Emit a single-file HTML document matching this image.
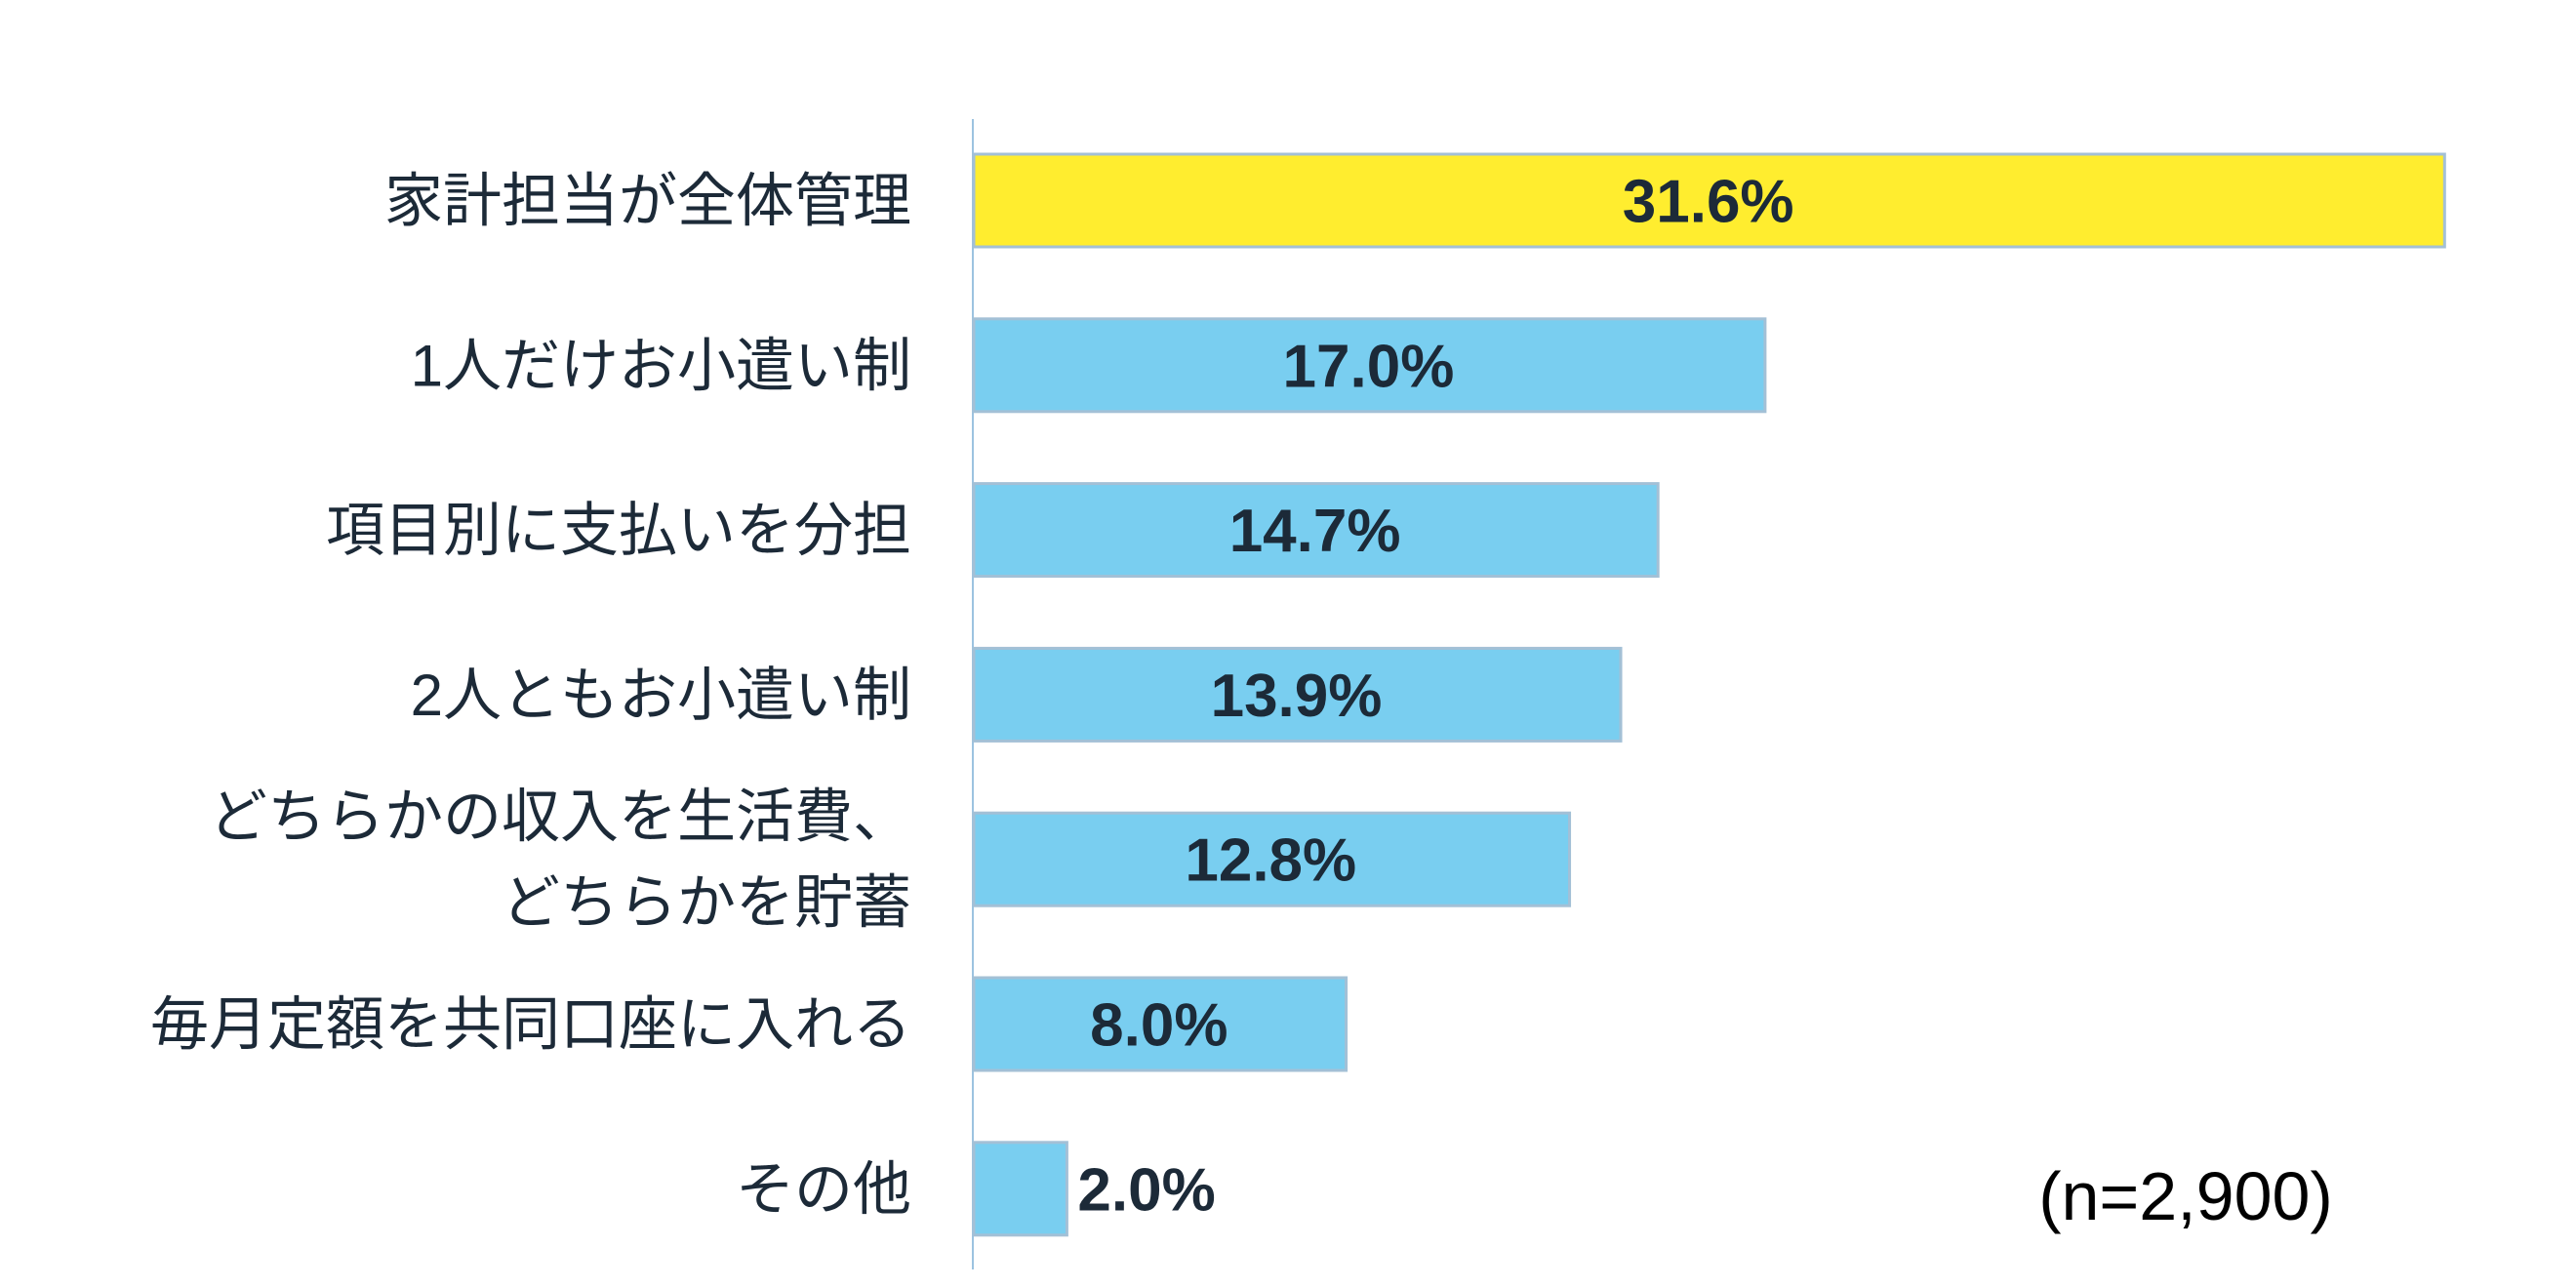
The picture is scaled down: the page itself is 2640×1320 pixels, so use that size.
<!DOCTYPE html>
<html><head><meta charset="utf-8">
<style>
html,body{margin:0;padding:0;background:#fff;}
svg{display:block;}
.cat{font-family:"Liberation Sans","Noto Sans CJK JP",sans-serif;font-size:60px;fill:#1c2a38;}
.val{font-family:"Liberation Sans",sans-serif;font-weight:bold;font-size:62px;fill:#1c2a38;}
</style></head>
<body>
<svg id="chart" width="2640" height="1320" viewBox="0 0 2640 1320" xmlns="http://www.w3.org/2000/svg">
<line x1="997" y1="122" x2="997" y2="1301" stroke="#9cc3e0" stroke-width="2"/>
<g id="bars"></g>
<text x="2240" y="1250" text-anchor="middle" font-family="Liberation Sans, sans-serif" font-size="70" fill="#000">(n=2,900)</text>
</svg>
<script>
const categories = [["家計担当が全体管理"],["1人だけお小遣い制"],["項目別に支払いを分担"],["2人ともお小遣い制"],["どちらかの収入を生活費、","どちらかを貯蓄"],["毎月定額を共同口座に入れる"],["その他"]];
const values = [31.6,17.0,14.7,13.9,12.8,8.0,2.0];
const valueLabels = ["31.6%","17.0%","14.7%","13.9%","12.8%","8.0%","2.0%"];

const NS="http://www.w3.org/2000/svg";
const x0=997, pxPer=47.7, top0=158, pitch=168.8, bh=95;
const xScale=v=>x0+v*pxPer;
const yBand=i=>top0+i*pitch;
const g=document.getElementById('bars');
values.forEach((v,i)=>{
  const y=yBand(i), w=xScale(v)-x0, cy=y+bh/2;
  const r=document.createElementNS(NS,'rect');
  
  
  r.setAttribute('x',x0+1);r.setAttribute('y',y);
  r.setAttribute('width',w);r.setAttribute('height',bh);
  r.setAttribute('fill',i===0?'#ffed2f':'#79cef0');
  r.setAttribute('stroke','#a3c0d6');r.setAttribute('stroke-width','3');
  g.appendChild(r);
  const t=document.createElementNS(NS,'text');
  
  
  t.setAttribute('class','val');
  t.setAttribute('y',cy+22);
  if(w>200){t.setAttribute('x',x0+w/2);t.setAttribute('text-anchor','middle');}
  else{t.setAttribute('x',xScale(v)+12);t.setAttribute('text-anchor','start');}
  t.textContent=valueLabels[i];
  g.appendChild(t);
  const lines=categories[i];
  lines.forEach((ln,j)=>{
    const c=document.createElementNS(NS,'text');
    
    
    c.setAttribute('class','cat');
    c.setAttribute('x',934);c.setAttribute('text-anchor','end');
    c.setAttribute('y',cy+21+(j-(lines.length-1)/2)*88);
    c.textContent=ln;
    g.appendChild(c);
  });
});
</script>
</body></html>
